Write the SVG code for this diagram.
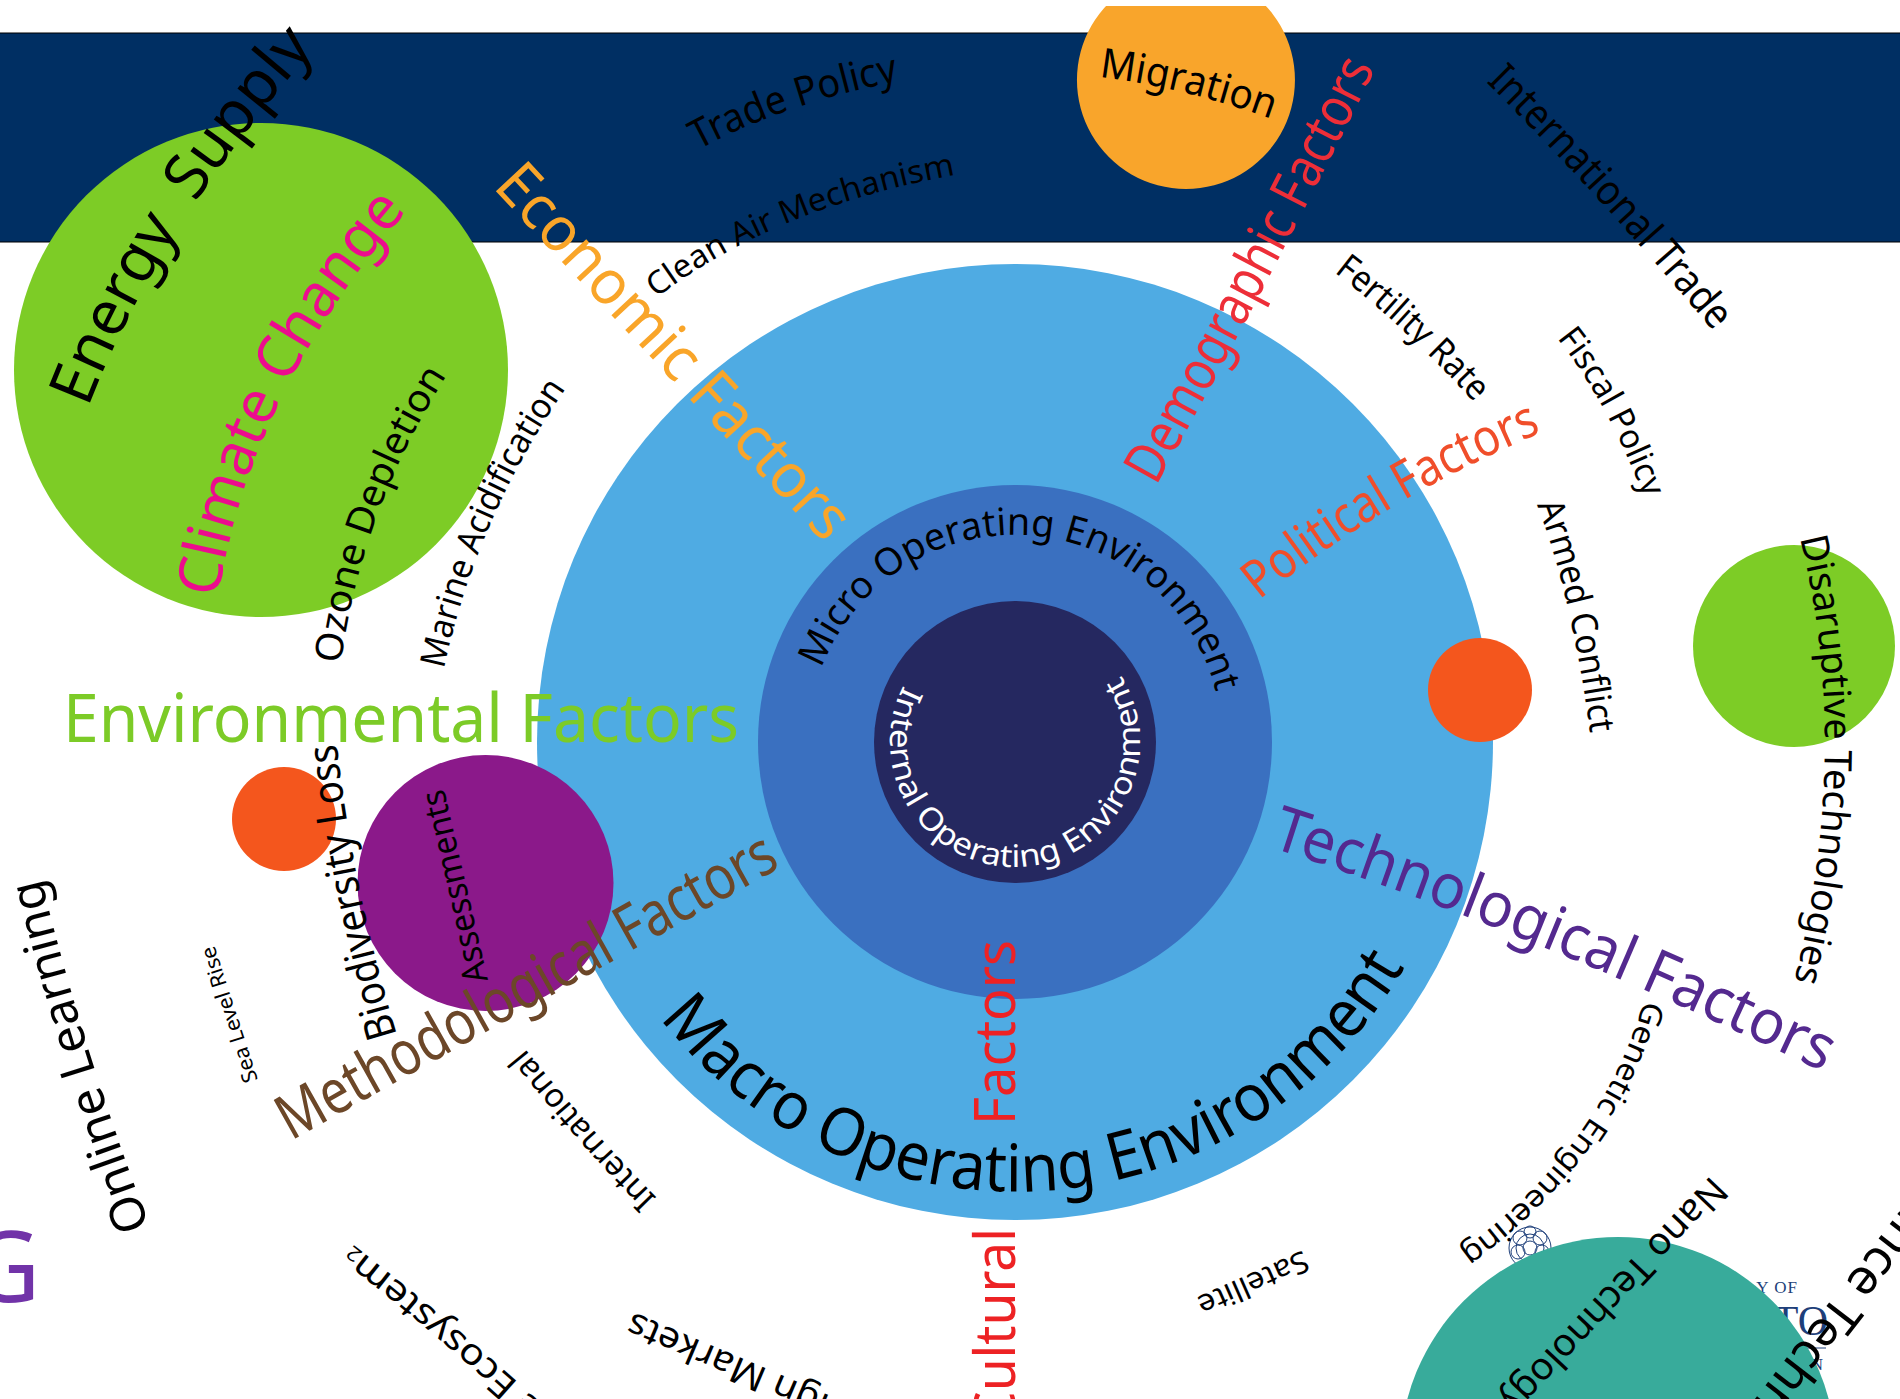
<svg xmlns="http://www.w3.org/2000/svg" xmlns:xlink="http://www.w3.org/1999/xlink" width="1900" height="1399" viewBox="0 0 1900 1399">
<style>
text{font-family:"Noto Sans","Open Sans",sans-serif;fill:#000}
.env{fill:#7CCB27}.eco{fill:#F9A529}.dem{fill:#ED2E38}.cul{fill:#ED2224}.pol{fill:#F04E2A}.tec{fill:#54298F}.met{fill:#6C4728}.cli{fill:#EC0C8E}
.logo{font-family:"Liberation Serif",serif;fill:#1E3F7A}
.ros{fill:none;stroke:#1E3F7A;stroke-width:1}
</style>
<defs>
<path id="pEnergy" d="M88,408 Q165,210 340,20"/>
<path id="pClimate" d="M218,598 Q250,390 412,205"/>
<path id="pOzone" d="M341,664 Q360,514 445,378"/>
<path id="pMarine" d="M444,669 Q480,500 590,355"/>
<path id="pTrade" d="M698,150 Q790,100 915,78"/>
<path id="pClean" d="M656,298 Q785,200 985,170"/>
<path id="pMigration" d="M1099,77 Q1190,88 1285,124"/>
<path id="pDemo" d="M1156,486 Q1260,300 1385,50"/>
<path id="pIntTrade" d="M1486,82 Q1600,195 1725,345"/>
<path id="pFert" d="M1334,272 Q1410,330 1495,425"/>
<path id="pFiscal" d="M1557,338 Q1614,410 1652,520"/>
<path id="pPol" d="M1259,600 Q1395,490 1565,423"/>
<path id="pArmed" d="M1537,505 Q1574,600 1593,755"/>
<path id="pDisr" d="M1800,538 Q1855,760 1788,1005"/>
<path id="pTech" d="M1270,847 Q1530,930 1840,1080"/>
<path id="pMacro" d="M660,1018 A450,450 0 0 0 1416,946"/>
<path id="pMicro" d="M821.4,668.6 A207,207 0 0 1 1220,713.2"/>
<path id="pInternal" d="M903.6,685.3 A125,125 0 1 0 1095.3,646.2"/>
<path id="pBio" d="M397,1035 Q350,880 336,735"/>
<path id="pOnline" d="M150,1226 Q82,1050 38,865"/>
<path id="pIntl" d="M657,1198 Q590,1130 518,1040"/>
<path id="pEco2" d="M544,1406 Q439,1310 334,1230"/>
<path id="pGen" d="M1644,1000 Q1600,1155 1445,1262"/>
<path id="pNano" d="M1711,1175 Q1630,1260 1490,1410"/>
</defs>
<rect width="1900" height="1399" fill="#fff"/>
<rect id="band" x="-2" y="33" width="1904" height="209" fill="#002F63" stroke="#000" stroke-width="1"/>
<g id="logo">
<g class="ros"><circle cx="1530" cy="1248" r="21"/><circle cx="1530" cy="1248" r="14"/><circle cx="1530" cy="1248" r="7"/><circle cx="1520" cy="1238" r="7"/><circle cx="1540" cy="1238" r="7"/><circle cx="1518" cy="1252" r="7"/><circle cx="1542" cy="1252" r="7"/><circle cx="1530" cy="1232" r="6"/></g>
<text class="logo" x="1798" y="1293" font-size="17" text-anchor="end" letter-spacing="1">Y OF</text>
<text class="logo" x="1828" y="1335" font-size="42" text-anchor="end">TO</text>
<text class="logo" x="1823" y="1370" font-size="17" text-anchor="end">N</text>
<path d="M1785,1348H1826" stroke="#1E3F7A" fill="none"/>
</g>
<g id="macro"><circle cx="1015" cy="742" r="478" fill="#4FABE3"/></g>
<g id="micro"><circle cx="1015" cy="742" r="257" fill="#3A70C0"/></g>
<g id="internal"><circle cx="1015" cy="742" r="141" fill="#252860"/></g>
<g id="climate-node"><circle cx="261" cy="370" r="247" fill="#7DCC26"/></g>
<g id="migration-node"><path d="M1186,-29A109,109 0 1 1 1185.9,-29Z" fill="#F9A52B"/><rect x="1060" y="-40" width="250" height="46" fill="#fff"/></g>
<g id="red-right"><circle cx="1480" cy="690" r="52" fill="#F4561D"/></g>
<g id="green-right"><circle cx="1794" cy="646" r="101" fill="#7DCC26"/></g>
<g id="red-left"><circle cx="284" cy="819" r="52" fill="#F4561D"/></g>
<g id="assessments-node"><circle cx="485.5" cy="883" r="128" fill="#8B198A"/></g>
<g id="teal-node"><circle cx="1618" cy="1455" r="218" fill="#38AB9B"/></g>

<g id="labels">
<text font-size="62" word-spacing="14"><textPath href="#pEnergy" textLength="428" lengthAdjust="spacingAndGlyphs">Energy Supply</textPath></text>
<text class="cli" font-size="60"><textPath href="#pClimate" textLength="437" lengthAdjust="spacingAndGlyphs">Climate Change</textPath></text>
<text font-size="38"><textPath href="#pOzone" textLength="310" lengthAdjust="spacingAndGlyphs">Ozone Depletion</textPath></text>
<text font-size="35"><textPath href="#pMarine" textLength="308" lengthAdjust="spacingAndGlyphs">Marine Acidification</textPath></text>
<text class="eco" font-size="62" transform="translate(492 187) rotate(47)" textLength="488" lengthAdjust="spacingAndGlyphs">Economic Factors</text>
<text font-size="40"><textPath href="#pTrade" textLength="213" lengthAdjust="spacingAndGlyphs">Trade Policy</textPath></text>
<text font-size="32"><textPath href="#pClean" textLength="327" lengthAdjust="spacingAndGlyphs">Clean Air Mechanism</textPath></text>
<text font-size="41"><textPath href="#pMigration" textLength="178" lengthAdjust="spacingAndGlyphs">Migration</textPath></text>
<text class="dem" font-size="56"><textPath href="#pDemo" textLength="472" lengthAdjust="spacingAndGlyphs">Demographic Factors</textPath></text>
<text font-size="42"><textPath href="#pIntTrade" textLength="338" lengthAdjust="spacingAndGlyphs">International Trade</textPath></text>
<text font-size="36"><textPath href="#pFert" textLength="192" lengthAdjust="spacingAndGlyphs">Fertility Rate</textPath></text>
<text font-size="34"><textPath href="#pFiscal" textLength="183" lengthAdjust="spacingAndGlyphs">Fiscal Policy</textPath></text>
<text class="pol" font-size="52"><textPath href="#pPol" textLength="330" lengthAdjust="spacingAndGlyphs">Political Factors</textPath></text>
<text font-size="36"><textPath href="#pArmed" textLength="235" lengthAdjust="spacingAndGlyphs">Armed Conflict</textPath></text>
<text font-size="38"><textPath href="#pDisr" textLength="448" lengthAdjust="spacingAndGlyphs">Disaruptive Technologies</textPath></text>
<text class="tec" font-size="62"><textPath href="#pTech" textLength="598" lengthAdjust="spacingAndGlyphs">Technological Factors</textPath></text>
<text font-size="66"><textPath href="#pMacro" textLength="880" lengthAdjust="spacingAndGlyphs">Macro Operating Environment</textPath></text>
<text font-size="38"><textPath href="#pMicro" textLength="525" lengthAdjust="spacingAndGlyphs">Micro Operating Environment</textPath></text>
<text font-size="31" style="fill:#fff"><textPath href="#pInternal" textLength="521" lengthAdjust="spacingAndGlyphs">Internal Operating Environment</textPath></text>
<text class="env" x="63" y="742" font-size="68" textLength="676" lengthAdjust="spacingAndGlyphs">Environmental Factors</text>
<text font-size="42"><textPath href="#pBio" textLength="298" lengthAdjust="spacingAndGlyphs">Biodiversity Loss</textPath></text>
<text font-size="34" transform="translate(488 980) rotate(-103)" textLength="197" lengthAdjust="spacingAndGlyphs">Assessments</text>
<text font-size="21" transform="translate(258 1080) rotate(-108)" textLength="142" lengthAdjust="spacingAndGlyphs">Sea Level Rise</text>
<text class="met" font-size="62" transform="translate(291 1141) rotate(-29.2)" textLength="562" lengthAdjust="spacingAndGlyphs">Methodological Factors</text>
<text font-size="48"><textPath href="#pOnline" textLength="365" lengthAdjust="spacingAndGlyphs">Online Learning</textPath></text>
<text font-size="33"><textPath href="#pIntl" textLength="200" lengthAdjust="spacingAndGlyphs">International</textPath></text>
<text font-size="36"><textPath href="#pEco2" textLength="250" lengthAdjust="spacingAndGlyphs">e Ecosystem<tspan font-size="20">2</tspan></textPath></text>
<text font-size="36" transform="translate(831 1396) rotate(-157)" textLength="215" lengthAdjust="spacingAndGlyphs">ign Markets</text>
<text class="cul" font-size="56" transform="translate(1015 1125) rotate(-90)" textLength="185" lengthAdjust="spacingAndGlyphs">Factors</text>
<text class="cul" font-size="56" transform="translate(1015 1425) rotate(-90)" textLength="197" lengthAdjust="spacingAndGlyphs">Cultural</text>
<text font-size="30" transform="translate(1303 1250) rotate(156)" textLength="118" lengthAdjust="spacingAndGlyphs">Satellite</text>
<text font-size="31"><textPath href="#pGen" textLength="318" lengthAdjust="spacingAndGlyphs">Genetic Engineering</textPath></text>
<text font-size="38"><textPath href="#pNano" textLength="312" lengthAdjust="spacingAndGlyphs">Nano Technology</textPath></text>
<text font-size="50" transform="translate(1912 1195) rotate(127.6)">ance Techn</text>
<text x="-31" y="1302" font-size="98" style="fill:#7133A8">G</text>
</g>
</svg>
